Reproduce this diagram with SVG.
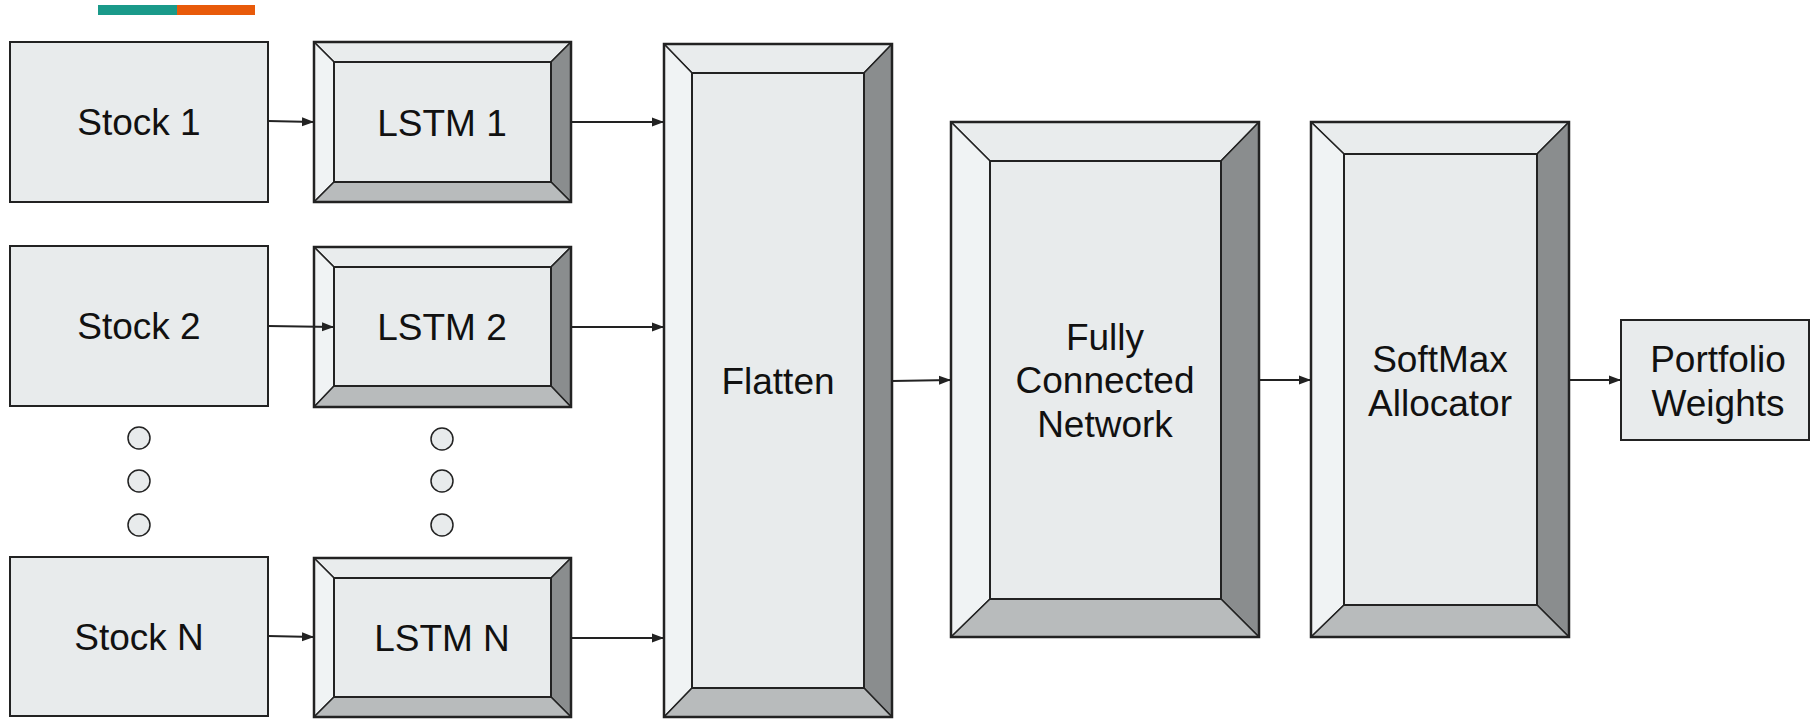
<svg xmlns="http://www.w3.org/2000/svg" width="1810" height="719" viewBox="0 0 1810 719">
  <defs>
    <style>
      .box { fill: #e8ebec; stroke: #222; stroke-width: 2; }
      .face { fill: #e8ebec; stroke: #222; stroke-width: 2; }
      .bt { fill: #e9eced; stroke: #222; stroke-width: 1.5; stroke-linejoin: round; }
      .bl { fill: #f0f3f4; stroke: #222; stroke-width: 1.5; stroke-linejoin: round; }
      .br { fill: #8a8d8e; stroke: #222; stroke-width: 1.5; stroke-linejoin: round; }
      .bb { fill: #b8bbbc; stroke: #222; stroke-width: 1.5; stroke-linejoin: round; }
      .frame { fill: none; stroke: #222; stroke-width: 2.5; }
      .lbl { font-family: "Liberation Sans", Arial, sans-serif; font-size: 37px; fill: #111; text-anchor: middle; }
      .dot { fill: #e8ebec; stroke: #222; stroke-width: 1.5; }
      .wire { fill: none; stroke: #222; stroke-width: 2; marker-end: url(#arrow); }
    </style>
    <marker id="arrow" markerUnits="userSpaceOnUse" markerWidth="12" markerHeight="10" refX="12" refY="5" orient="auto">
      <path d="M0,0.5 L12,5 L0,9.5 Z" fill="#222"/>
    </marker>
  </defs>

  <!-- accent bar -->
  <rect x="98" y="5" width="79" height="10" fill="#1a9a8a"/>
  <rect x="177" y="5" width="78" height="10" fill="#e85a0a"/>

  <!-- input series -->
  <g id="stock1">
    <rect class="box" x="10" y="42" width="258" height="160"/>
    <text class="lbl" x="139" y="135">Stock 1</text>
  </g>
  <g id="stock2">
    <rect class="box" x="10" y="246" width="258" height="160"/>
    <text class="lbl" x="139" y="339">Stock 2</text>
  </g>
  <g id="stockN">
    <rect class="box" x="10" y="557" width="258" height="159"/>
    <text class="lbl" x="139" y="650">Stock N</text>
  </g>

  <!-- ellipsis dots -->
  <g id="dots-stock">
    <ellipse class="dot" cx="139" cy="438" rx="11" ry="11"/>
    <ellipse class="dot" cx="139" cy="481" rx="11" ry="11"/>
    <ellipse class="dot" cx="139" cy="525" rx="11" ry="11"/>
  </g>
  <g id="dots-lstm">
    <ellipse class="dot" cx="442" cy="439" rx="11" ry="11"/>
    <ellipse class="dot" cx="442" cy="481" rx="11" ry="11"/>
    <ellipse class="dot" cx="442" cy="525" rx="11" ry="11"/>
  </g>

  <!-- LSTM blocks (bevelled) -->
  <g id="lstm1">
    <polygon class="bt" points="314,42 571,42 551,62 334,62"/>
    <polygon class="bl" points="314,42 334,62 334,182 314,202"/>
    <polygon class="br" points="571,42 571,202 551,182 551,62"/>
    <polygon class="bb" points="314,202 334,182 551,182 571,202"/>
    <rect class="face" x="334" y="62" width="217" height="120"/>
    <rect class="frame" x="314" y="42" width="257" height="160"/>
    <text class="lbl" x="442" y="136">LSTM 1</text>
  </g>
  <g id="lstm2">
    <polygon class="bt" points="314,247 571,247 551,267 334,267"/>
    <polygon class="bl" points="314,247 334,267 334,386 314,407"/>
    <polygon class="br" points="571,247 571,407 551,386 551,267"/>
    <polygon class="bb" points="314,407 334,386 551,386 571,407"/>
    <rect class="face" x="334" y="267" width="217" height="119"/>
    <rect class="frame" x="314" y="247" width="257" height="160"/>
    <text class="lbl" x="442" y="340">LSTM 2</text>
  </g>
  <g id="lstmN">
    <polygon class="bt" points="314,558 571,558 551,578 334,578"/>
    <polygon class="bl" points="314,558 334,578 334,697 314,717"/>
    <polygon class="br" points="571,558 571,717 551,697 551,578"/>
    <polygon class="bb" points="314,717 334,697 551,697 571,717"/>
    <rect class="face" x="334" y="578" width="217" height="119"/>
    <rect class="frame" x="314" y="558" width="257" height="159"/>
    <text class="lbl" x="442" y="651">LSTM N</text>
  </g>

  <!-- Flatten layer -->
  <g id="flatten">
    <polygon class="bt" points="664,44 892,44 864,73 692,73"/>
    <polygon class="bl" points="664,44 692,73 692,688 664,717"/>
    <polygon class="br" points="892,44 892,717 864,688 864,73"/>
    <polygon class="bb" points="664,717 692,688 864,688 892,717"/>
    <rect class="face" x="692" y="73" width="172" height="615"/>
    <rect class="frame" x="664" y="44" width="228" height="673"/>
    <text class="lbl" x="778" y="394">Flatten</text>
  </g>

  <!-- Dense layer -->
  <g id="fully-connected">
    <polygon class="bt" points="951,122 1259,122 1221,161 990,161"/>
    <polygon class="bl" points="951,122 990,161 990,599 951,637"/>
    <polygon class="br" points="1259,122 1259,637 1221,599 1221,161"/>
    <polygon class="bb" points="951,637 990,599 1221,599 1259,637"/>
    <rect class="face" x="990" y="161" width="231" height="438"/>
    <rect class="frame" x="951" y="122" width="308" height="515"/>
    <text class="lbl" x="1105" y="350">Fully</text>
    <text class="lbl" x="1105" y="393">Connected</text>
    <text class="lbl" x="1105" y="437">Network</text>
  </g>

  <!-- Softmax allocation layer -->
  <g id="softmax">
    <polygon class="bt" points="1311,122 1569,122 1537,154 1344,154"/>
    <polygon class="bl" points="1311,122 1344,154 1344,605 1311,637"/>
    <polygon class="br" points="1569,122 1569,637 1537,605 1537,154"/>
    <polygon class="bb" points="1311,637 1344,605 1537,605 1569,637"/>
    <rect class="face" x="1344" y="154" width="193" height="451"/>
    <rect class="frame" x="1311" y="122" width="258" height="515"/>
    <text class="lbl" x="1440" y="372">SoftMax</text>
    <text class="lbl" x="1440" y="416">Allocator</text>
  </g>

  <!-- Output -->
  <g id="portfolio">
    <rect class="box" x="1621" y="320" width="188" height="120"/>
    <text class="lbl" x="1718" y="372">Portfolio</text>
    <text class="lbl" x="1718" y="416">Weights</text>
  </g>

  <!-- connectors -->
  <g id="connectors">
    <line class="wire" x1="268" y1="121" x2="314" y2="122"/>
    <line class="wire" x1="268" y1="326" x2="334" y2="327"/>
    <line class="wire" x1="268" y1="636" x2="314" y2="637"/>
    <line class="wire" x1="571" y1="122" x2="664" y2="122"/>
    <line class="wire" x1="571" y1="327" x2="664" y2="327"/>
    <line class="wire" x1="571" y1="638" x2="664" y2="638"/>
    <line class="wire" x1="892" y1="381" x2="951" y2="380"/>
    <line class="wire" x1="1259" y1="380" x2="1311" y2="380"/>
    <line class="wire" x1="1569" y1="380" x2="1621" y2="380"/>
  </g>
</svg>
